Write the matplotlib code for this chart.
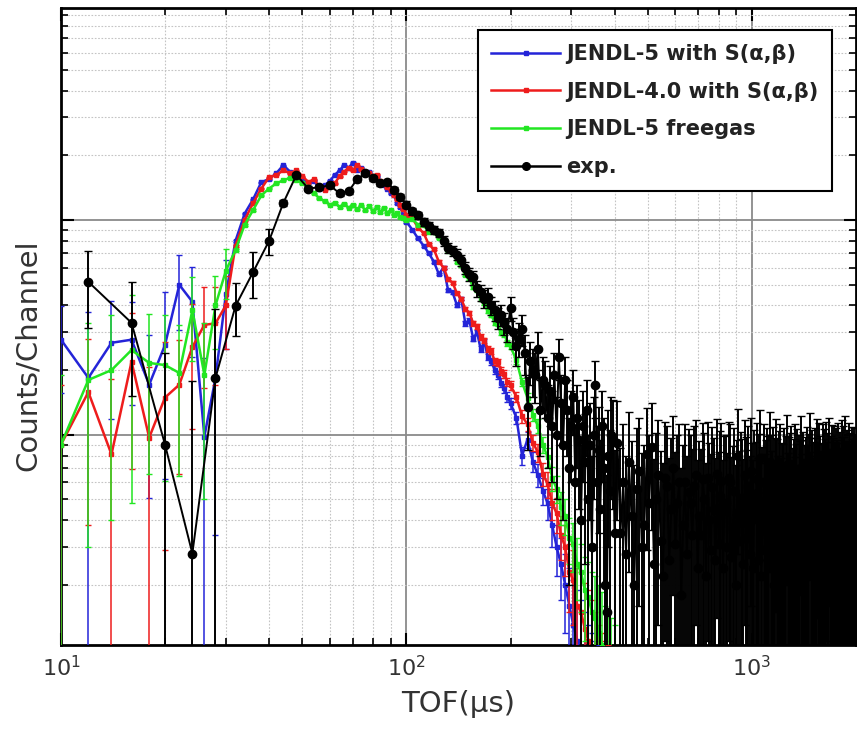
import numpy as np
import matplotlib
matplotlib.use("Agg")
import matplotlib.pyplot as plt
from matplotlib.lines import Line2D
from matplotlib.ticker import NullFormatter, LogLocator

plt.rcParams['font.family'] = ['DejaVu Sans']
plt.rcParams['mathtext.fontset'] = 'dejavusans'

# TOF channels (us)
sim_x = np.concatenate([np.arange(10, 101, 2), np.arange(104, 201, 4), np.arange(208, 401, 8)])
exp_x = np.concatenate([np.arange(12, 401, 4), np.arange(408, 2001, 8)])

# JENDL-5 with S(a,b)
blue_y = [277, 184, 268, 277, 171, 262, 499, 416, 98, 184, 450,
          800, 1070, 1250, 1500, 1550, 1650, 1800, 1680, 1620, 1550, 1480, 1520, 1400, 1450, 1520,
          1620, 1700, 1800, 1750, 1850, 1700, 1750, 1650, 1680, 1580, 1600, 1500, 1450, 1400, 1330,
          1300, 1200, 1150, 1050, 980,
          900, 820, 760, 700, 640, 560, 600, 470, 460, 400, 430, 330, 340, 280, 300, 250, 270, 230,
          220, 200, 190, 175, 165, 150, 140,
          120, 80, 95, 75, 65, 55, 48, 38, 30, 25, 20, 16, 13, 11, 9, 7, 5, 4, 3, 2.5, 2, 1.5, 1.2, 1, 0.8]
blue_err_low = [120, 190, 150, 140, 120, 200, 190, 185, 130, 150, 200]

# JENDL-4.0 with S(a,b)
red_y = [90, 158, 81, 219, 97, 149, 171, 256, 325, 330, 400,
         760, 1000, 1200, 1400, 1580, 1620, 1700, 1650, 1700, 1600, 1500, 1550, 1420, 1380, 1450,
         1480, 1600, 1680, 1750, 1700, 1800, 1720, 1680, 1650, 1600, 1620, 1520, 1480, 1420, 1380,
         1300, 1250, 1180, 1120, 1060,
         1020, 920, 870, 770, 730, 640, 600, 530, 510, 455, 430, 385, 370, 330, 320, 285, 275, 250,
         245, 220, 218, 198, 192, 176, 170,
         150, 122, 112, 92, 83, 66, 59, 48, 43, 34, 30, 23, 21, 16, 15, 12.5, 11, 9, 7, 5, 4, 3, 2.5, 2, 1.5]
red_err_low = [80, 120, 100, 150, 110, 120, 105, 150, 160, 160, 150]

# JENDL-5 freegas
green_y = [90, 180, 200, 248, 216, 211, 194, 380, 190, 400, 580,
           725, 950, 1114, 1300, 1400, 1480, 1530, 1570, 1540, 1480, 1420, 1330, 1260, 1220, 1180,
           1200, 1150, 1190, 1140, 1180, 1120, 1170, 1110, 1160, 1100, 1150, 1090, 1140, 1080, 1110,
           1060, 1080, 1030, 1020, 1000,
           1010, 950, 945, 880, 875, 820, 790, 720, 705, 640, 615, 555, 535, 485, 470, 428, 410, 378,
           362, 332, 328, 300, 294, 268, 258,
           222, 176, 148, 124, 110, 90, 79, 63, 56, 46, 42, 33, 31, 25, 23, 19, 17.5, 15, 14, 12, 10.5,
           8, 7, 6, 5]
green_err_low = [100, 150, 160, 200, 150, 150, 130, 160, 140, 150, 150]
sim_err_dense = 8

# experiment
exp_y = [515, 332, 90, 28, 184, 398, 573, 798,
         1200, 1620, 1400, 1420, 1450, 1330, 1360, 1550, 1650, 1560, 1480, 1500, 1380, 1280, 1180,
         1100, 1050, 980, 940, 900, 870, 800, 740, 720, 690, 650, 600, 560, 540, 480, 460, 430, 440,
         400, 380, 350, 360, 330, 310,
         390, 300, 260, 280, 310, 240, 135, 220, 200, 190,
         250, 130, 180, 170, 120, 160, 110, 190, 100, 230,
         140, 90, 180, 130, 70, 110, 150, 60, 120, 95,
         40, 110, 75, 130, 50, 90, 30, 100, 170, 60,
         85, 45, 110, 70, 20, 15, 80, 55, 100, 95,
         35,
         # 408 - 2000 us, 8 us steps
         92, 35, 60, 28, 75, 42, 20, 56, 68, 30,
         38, 81, 48, 88, 25, 50, 65, 32, 22, 63,
         58, 26, 45, 70, 31, 48, 60, 18, 38, 60,
         28, 54, 48, 34, 58, 65, 24, 42, 34, 62,
         50, 22, 63, 40, 29, 57, 45, 26, 66, 31,
         52, 61, 24, 47, 48, 30, 63, 60, 27, 37,
         55, 20, 43, 80, 32, 51, 44, 25, 65, 46,
         33, 58, 28, 68, 40, 24, 53, 41, 62, 26,
         49, 78, 22, 36, 60, 29, 43, 55, 47, 25,
         75, 48, 32, 57, 20, 45, 67, 44, 28, 52,
         60, 26, 40, 39, 56, 22, 47, 72, 30, 46,
         50, 58, 24, 35, 44, 60, 27, 39, 54, 20,
         48, 42, 70, 29, 43, 51, 25, 38, 46, 57,
         22, 38, 49, 74, 31, 45, 53, 26, 41, 56,
         45, 28, 66, 40, 24, 62, 47, 32, 39, 60,
         25, 54, 44, 29, 63, 41, 20, 50, 68, 34,
         47, 26, 59, 45, 31, 58, 41, 24, 55, 43,
         27, 62, 40, 35, 51, 22, 65, 46, 30, 58,
         46, 25, 70, 42, 28, 53, 41, 21, 62, 39,
         50, 29, 44, 57, 26, 48, 56, 32, 48, 45]
exp_err_low = [200, 180, 150, 150, 200, 110, 140, 110]
exp_err_mid = 40    # 44-196 us
exp_err_hi = 50     # 200-400 us
exp_err_tail = 52   # > 400 us


def sim_err(low):
    return np.concatenate([low, np.full(len(sim_x) - len(low), sim_err_dense)])


n_mid = np.sum((exp_x >= 44) & (exp_x < 200))
n_hi = np.sum((exp_x >= 200) & (exp_x <= 400))
n_tail = np.sum(exp_x > 400)
exp_err = np.concatenate([exp_err_low, np.full(n_mid, exp_err_mid),
                          np.full(n_hi, exp_err_hi), np.full(n_tail, exp_err_tail)])

fig = plt.figure(figsize=(8.57, 7.41), dpi=100)
ax = fig.add_axes([61 / 857, 1 - 645 / 741, (856 - 61) / 857, (645 - 8) / 741])
ax.set_xscale('log')
ax.set_yscale('log')

c_blue, c_red, c_green = '#2424d8', '#ee1c1c', '#22e622'
kw = dict(marker='s', ms=3.2, lw=1.8, elinewidth=1.1, capsize=2)
ax.errorbar(sim_x, blue_y, yerr=sim_err(blue_err_low), color=c_blue, zorder=3, **kw)
ax.errorbar(sim_x, red_y, yerr=sim_err(red_err_low), color=c_red, zorder=4, **kw)
ax.errorbar(sim_x, green_y, yerr=sim_err(green_err_low), color=c_green, zorder=5, **kw)
ax.errorbar(exp_x, exp_y, yerr=exp_err, color='black', marker='o', ms=6, lw=1.4,
            elinewidth=1.4, capsize=3, zorder=6)

ax.set_xlim(10, 2000)
ax.set_ylim(10.5, 9700)

ax.yaxis.set_major_locator(LogLocator(base=10))
ax.yaxis.set_minor_locator(LogLocator(base=10, subs=np.arange(2, 10)))
ax.yaxis.set_major_formatter(NullFormatter())
ax.yaxis.set_minor_formatter(NullFormatter())
ax.xaxis.set_minor_formatter(NullFormatter())

ax.tick_params(which='both', direction='in', top=True, right=True, labelsize=16,
               labelcolor='#333333', pad=7)
ax.tick_params(which='major', length=9, width=1.5)
ax.tick_params(which='minor', length=5, width=1.2)
for s in ax.spines.values():
    s.set_linewidth(2)

ax.grid(which='major', color='#8a8a8a', lw=1.3)
ax.grid(which='minor', color='#c4c4c4', lw=0.8, ls=(0, (1.5, 1.5)))
ax.set_axisbelow(True)

ax.set_xlabel('TOF(μs)', fontsize=21, labelpad=7, color='#333333')
ax.set_ylabel('Counts/Channel', fontsize=21, color='#333333')
ax.yaxis.set_label_coords(-0.024, 0.455)

handles = [
    Line2D([], [], color=c_blue, marker='s', ms=3, lw=1.8),
    Line2D([], [], color=c_red, marker='s', ms=3, lw=1.8),
    Line2D([], [], color=c_green, marker='s', ms=3, lw=1.8),
    Line2D([], [], color='black', marker='o', ms=5.5, lw=1.8),
]
labels = ['JENDL-5 with S(α,β)', 'JENDL-4.0 with S(α,β)', 'JENDL-5 freegas', 'exp.']
leg = ax.legend(handles, labels, loc='upper right', bbox_to_anchor=(0.97, 0.965),
                prop=dict(size=15, weight='bold'), handlelength=3.3, handletextpad=0.3,
                labelspacing=0.85, fancybox=False, edgecolor='black', framealpha=1,
                borderpad=0.65, borderaxespad=0)
for t in leg.get_texts():
    t.set_color('#222222')
leg.get_frame().set_linewidth(1.5)
leg.set_zorder(10)

fig.savefig('out.png', dpi=100)
